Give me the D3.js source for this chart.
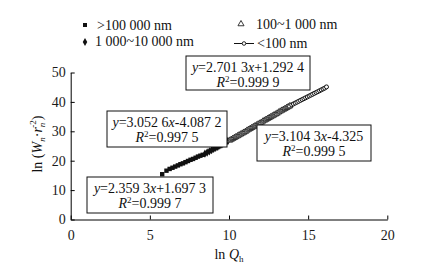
<!DOCTYPE html>
<html>
<head>
<meta charset="utf-8">
<script src="https://cdn.jsdelivr.net/npm/d3@7"></script>
<style>
  body { margin: 0; background: #fff; }
  svg { font-family: "Liberation Serif", "Times New Roman", serif; fill: #111; }
  .axis path, .axis line { stroke: #000; stroke-width: 1; }
  .axis text { font-family: "Liberation Serif", serif; font-size: 14px; fill: #1a1a1a; }
</style>
</head>
<body>
<svg id="chart" width="428" height="272"></svg>
<script>
// 数据: ln Qh 与 ln(Wn·rn^-2)
const sqX = [5.78, 6.05, 6.25, 6.43, 6.6, 6.77, 6.93, 7.09, 7.25, 7.41, 7.57, 7.73, 7.89, 8.04, 8.19, 8.34];
const sqY = [15.4, 16.6, 17.2, 17.6, 18.0, 18.4, 18.8, 19.1, 19.5, 19.9, 20.3, 20.6, 21.0, 21.4, 21.7, 22.0];

const dmX = [8.48, 8.62, 8.76, 8.9, 9.03, 9.16, 9.29, 9.42, 9.55, 9.68, 9.81, 9.93];
const dmY = [22.4, 22.8, 23.2, 23.6, 24.0, 24.4, 24.7, 25.1, 25.5, 25.9, 26.3, 26.7];

const trX = [10.04, 10.14, 10.24, 10.34, 10.44, 10.54, 10.64, 10.74, 10.84, 10.94,
             11.04, 11.14, 11.24, 11.34, 11.44, 11.54, 11.64, 11.74, 11.84, 11.94,
             12.04, 12.14, 12.24, 12.34, 12.44, 12.54, 12.64, 12.74, 12.84, 12.94,
             13.04, 13.14, 13.24, 13.34, 13.44, 13.54, 13.64, 13.74, 13.84];
const trY = [26.9, 27.2, 27.5, 27.8, 28.1, 28.4, 28.7, 29.0, 29.3, 29.6,
             29.9, 30.3, 30.6, 30.9, 31.2, 31.5, 31.8, 32.1, 32.4, 32.7,
             33.0, 33.4, 33.7, 34.0, 34.3, 34.6, 34.9, 35.2, 35.5, 35.8,
             36.1, 36.5, 36.8, 37.1, 37.4, 37.7, 38.0, 38.3, 38.6];

const ciX = [13.96, 14.07, 14.18, 14.29, 14.4, 14.51, 14.62, 14.73, 14.84, 14.95, 15.06,
             15.17, 15.28, 15.39, 15.5, 15.61, 15.72, 15.83, 15.94, 16.05, 16.16];
const ciY = [39.0, 39.3, 39.6, 39.9, 40.2, 40.5, 40.8, 41.1, 41.4, 41.7, 42.0,
             42.3, 42.6, 42.9, 43.2, 43.5, 43.8, 44.1, 44.4, 44.7, 45.1];

const xTicks = [0, 5, 10, 15, 20];
const yTicks = [0, 10, 20, 30, 40, 50];

// 拟合方程 [斜率, 截距, R2]
const eqSq = ['2.359 3', '+1.697 3', '0.999 7'];
const eqDm = ['3.052 6', '-4.087 2', '0.997 5'];
const eqTr = ['3.104 3', '-4.325', '0.999 5'];
const eqCi = ['2.701 3', '+1.292 4', '0.999 9'];

const svg = d3.select('#chart');
const x = d3.scaleLinear().domain([0, 20]).range([70.7, 387.3]);
const y = d3.scaleLinear().domain([0, 50]).range([219.5, 72.5]);

const zip = (xs, ys) => xs.map((v, i) => ({x: v, y: ys[i]}));

// 坐标轴
svg.append('g')
    .attr('class', 'axis')
    .attr('transform', `translate(0,${y(0)})`)
    .call(d3.axisBottom(x).tickValues(xTicks).tickSizeInner(-4).tickSizeOuter(0).tickPadding(11));

svg.append('g')
    .attr('class', 'axis')
    .attr('transform', `translate(${x(0)},0)`)
    .call(d3.axisLeft(y).tickValues(yTicks).tickSizeInner(-4).tickSizeOuter(0).tickPadding(5));

// 轴标题
const xl = svg.append('text')
    .attr('x', 229).attr('y', 259)
    .attr('text-anchor', 'middle')
    .style('font-size', '14px');
xl.append('tspan').text('ln ');
xl.append('tspan').style('font-style', 'italic').text('Q');
xl.append('tspan').style('font-size', '9px').attr('dy', 3).text('h');

const yl = svg.append('text')
    .attr('transform', 'translate(42,144) rotate(-90)')
    .attr('text-anchor', 'middle')
    .style('font-size', '14px');
yl.append('tspan').text('ln (');
yl.append('tspan').style('font-style', 'italic').text('W');
yl.append('tspan').style('font-style', 'italic').style('font-size', '9px').attr('dy', 3).text('n');
yl.append('tspan').attr('dy', -3).text('·');
yl.append('tspan').style('font-style', 'italic').text('r');
yl.append('tspan').style('font-style', 'italic').style('font-size', '9px').attr('dy', 3).text('n');
yl.append('tspan').style('font-size', '9px').attr('dx', -5).attr('dy', -9).text('-2');
yl.append('tspan').attr('dy', 6).text(')');

// 数据点
const g = svg.append('g');

g.selectAll('.sq').data(zip(sqX, sqY)).join('rect')
    .attr('class', 'sq')
    .attr('x', d => x(d.x) - 2.2).attr('y', d => y(d.y) - 2.2)
    .attr('width', 4.4).attr('height', 4.4)
    .attr('fill', '#111');

const diamond = d3.symbol().type(d3.symbolDiamond).size(20);
g.selectAll('.dm').data(zip(dmX, dmY)).join('path')
    .attr('class', 'dm')
    .attr('transform', d => `translate(${x(d.x)},${y(d.y)})`)
    .attr('d', diamond)
    .attr('fill', '#111');

const tri = d3.symbol().type(d3.symbolTriangle).size(16);
g.selectAll('.tr').data(zip(trX, trY)).join('path')
    .attr('class', 'tr')
    .attr('transform', d => `translate(${x(d.x)},${y(d.y)})`)
    .attr('d', tri)
    .attr('fill', '#eee')
    .attr('stroke', '#222')
    .attr('stroke-width', 0.9);

g.append('path')
    .datum(zip(ciX, ciY))
    .attr('fill', 'none')
    .attr('stroke', '#111')
    .attr('stroke-width', 1)
    .attr('d', d3.line().x(d => x(d.x)).y(d => y(d.y)));

g.selectAll('.ci').data(zip(ciX, ciY)).join('circle')
    .attr('class', 'ci')
    .attr('cx', d => x(d.x)).attr('cy', d => y(d.y))
    .attr('r', 2)
    .attr('fill', '#fff')
    .attr('stroke', '#111')
    .attr('stroke-width', 1);

// 方程框
function eqBox(left, top, w, h, eq) {
    const bg = svg.append('g');
    bg.append('rect')
        .attr('x', left).attr('y', top).attr('width', w).attr('height', h)
        .attr('fill', '#fff').attr('stroke', '#111').attr('stroke-width', 1);
    const cx = left + w / 2;
    const t1 = bg.append('text').attr('x', cx).attr('y', top + 16)
        .attr('text-anchor', 'middle').style('font-size', '14px');
    t1.append('tspan').style('font-style', 'italic').text('y');
    t1.append('tspan').text('=' + eq[0]);
    t1.append('tspan').style('font-style', 'italic').text('x');
    t1.append('tspan').text(eq[1]);
    const t2 = bg.append('text').attr('x', cx).attr('y', top + 31)
        .attr('text-anchor', 'middle').style('font-size', '14px');
    t2.append('tspan').style('font-style', 'italic').text('R');
    t2.append('tspan').style('font-size', '9px').attr('dy', -5).text('2');
    t2.append('tspan').attr('dy', 5).text('=' + eq[2]);
}

eqBox(186, 56, 124, 34, eqCi);
eqBox(107, 111, 120, 36, eqDm);
eqBox(257, 125, 114, 36, eqTr);
eqBox(87, 177, 126, 36, eqSq);

// 图例
const lg = svg.append('g').style('font-size', '14px');
lg.append('rect').attr('x', 83).attr('y', 23).attr('width', 4).attr('height', 4).attr('fill', '#111');
lg.append('text').attr('x', 97).attr('y', 30).text('>100 000 nm');
lg.append('path').attr('transform', 'translate(85,42)')
    .attr('d', d3.symbol().type(d3.symbolDiamond).size(18)).attr('fill', '#111');
lg.append('text').attr('x', 95).attr('y', 46).text('1 000~10 000 nm');
lg.append('path').attr('transform', 'translate(241,24)')
    .attr('d', d3.symbol().type(d3.symbolTriangle).size(16))
    .attr('fill', '#fff').attr('stroke', '#222').attr('stroke-width', 0.9);
lg.append('text').attr('x', 256).attr('y', 29).text('100~1 000 nm');
lg.append('line').attr('x1', 234).attr('x2', 254).attr('y1', 43.5).attr('y2', 43.5)
    .attr('stroke', '#111').attr('stroke-width', 1);
lg.append('circle').attr('cx', 244).attr('cy', 43.5).attr('r', 1.8)
    .attr('fill', '#fff').attr('stroke', '#111').attr('stroke-width', 0.9);
lg.append('text').attr('x', 257).attr('y', 48).text('<100 nm');
</script>
</body>
</html>
